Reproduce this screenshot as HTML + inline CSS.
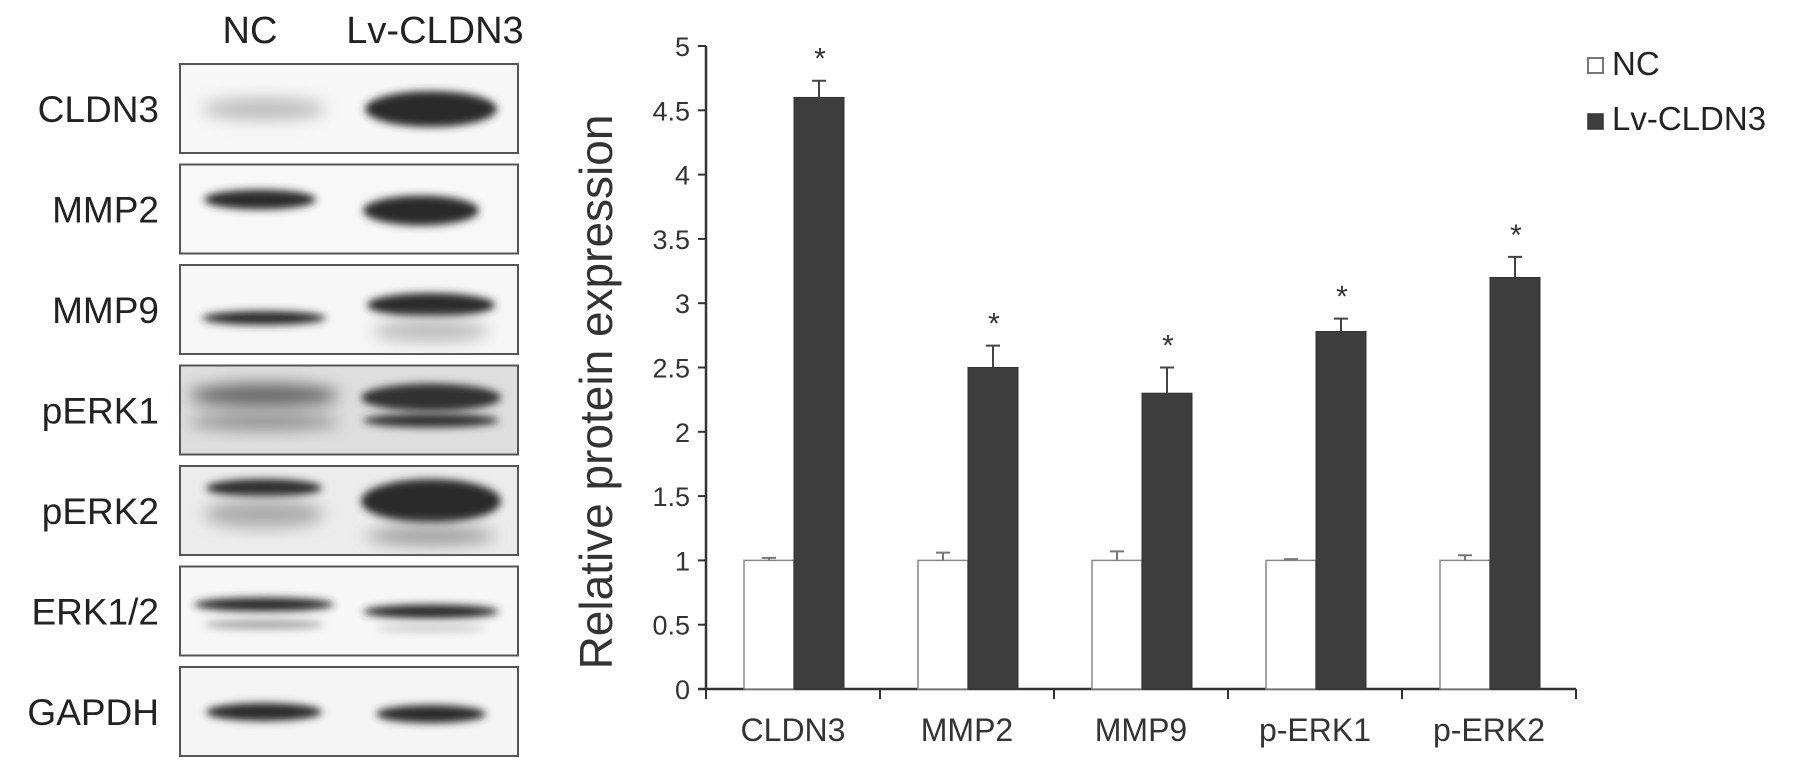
<!DOCTYPE html>
<html><head><meta charset="utf-8"><style>
body{margin:0;background:#fff;}
svg{display:block;font-family:"Liberation Sans",Arial,sans-serif;}
</style></head><body>
<svg width="1795" height="763" viewBox="0 0 1795 763">
<defs>
<filter id="b4" x="-30%" y="-80%" width="160%" height="260%"><feGaussianBlur stdDeviation="4"/></filter>
<filter id="b8" x="-30%" y="-80%" width="160%" height="260%"><feGaussianBlur stdDeviation="8"/></filter>
</defs>
<g id="blots">
<text x="250" y="43" font-size="38" text-anchor="middle" fill="#222">NC</text>
<text x="435" y="43" font-size="38" text-anchor="middle" fill="#222">Lv-CLDN3</text>
</g>
<g id="chart"></g>
<g>
<rect x="1588" y="58" width="15" height="15" fill="#fff" stroke="#777" stroke-width="2"/>
<text x="1612" y="75" font-size="33" fill="#222">NC</text>
<rect x="1588" y="114" width="15" height="15" fill="#3d3d3d" stroke="#333" stroke-width="1.5"/>
<text x="1612" y="130" font-size="33" fill="#222">Lv-CLDN3</text>
</g>
</svg>
<script>
const categories=["CLDN3","MMP2","MMP9","p-ERK1","p-ERK2"];
const ncValues=[1,1,1,1,1];
const ncErr=[0.02,0.06,0.07,0.01,0.04];
const lvValues=[4.6,2.5,2.3,2.78,3.2];
const lvErr=[0.13,0.17,0.2,0.1,0.16];
const yTicks=[0,0.5,1,1.5,2,2.5,3,3.5,4,4.5,5];
const yTickLabels=["0","0.5","1","1.5","2","2.5","3","3.5","4","4.5","5"];
const blotLabels=["CLDN3","MMP2","MMP9","pERK1","pERK2","ERK1/2","GAPDH"];

const NS="http://www.w3.org/2000/svg";
function mk(tag,attrs,parent){const e=document.createElementNS(NS,tag);for(const k in attrs)e.setAttribute(k,attrs[k]);parent.appendChild(e);return e;}
const chart=document.getElementById('chart');
const X0=706,XW=174,Y0=689,Y5=46;
const y=v=>Y0-(Y0-Y5)*v/5;
const xCat=i=>X0+i*XW;
let ax=mk('line',{x1:X0,y1:Y5,x2:X0,y2:Y0,stroke:'#333','stroke-width':2.5},chart);

let bx=mk('line',{x1:X0-8,y1:Y0,x2:X0+XW*categories.length,y2:Y0,stroke:'#333','stroke-width':2.5},chart);

yTicks.forEach((t,i)=>{
 const l=mk('line',{x1:X0-8,y1:y(t),x2:X0,y2:y(t),stroke:'#333','stroke-width':2},chart);
 
 const tx=mk('text',{x:X0-16,y:y(t)+10,'font-size':27,'text-anchor':'end',fill:'#333'},chart);
 tx.textContent=yTickLabels[i];
 
});
for(let i=0;i<=categories.length;i++){
 const l=mk('line',{x1:xCat(i),y1:Y0,x2:xCat(i),y2:Y0+10,stroke:'#333','stroke-width':2},chart);
 
}
const yt=mk('text',{x:0,y:0,'font-size':46,'text-anchor':'middle',fill:'#333',transform:'translate(612,392) rotate(-90)'},chart);
yt.textContent='Relative protein expression';

categories.forEach((c,i)=>{
 const bxl=xCat(i)+38;
 const nb=mk('rect',{x:bxl,y:y(ncValues[i]),width:50,height:Y0-y(ncValues[i]),fill:'#fff',stroke:'#888','stroke-width':1.5},chart);
 
 const lb=mk('rect',{x:bxl+50,y:y(lvValues[i]),width:50,height:Y0-y(lvValues[i]),fill:'#3d3d3d',stroke:'#333','stroke-width':1},chart);
 
 [[bxl+25,ncValues[i],ncErr[i],'#777'],[bxl+75,lvValues[i],lvErr[i],'#444']].forEach(([cx,v,e,col])=>{
  const g=mk('path',{d:`M${cx},${y(v)} V${y(v+e)} M${cx-7},${y(v+e)} H${cx+7}`,stroke:col,'stroke-width':2,fill:'none'},chart);
  
 });
 const st=mk('text',{x:bxl+76,y:y(lvValues[i]+lvErr[i])-12,'font-size':30,'text-anchor':'middle',fill:'#333'},chart);
 st.textContent='*';
 
 const cl=mk('text',{x:xCat(i)+XW/2,y:741,'font-size':32,'text-anchor':'middle',fill:'#333'},chart);
 cl.textContent=c;
 
});
const blots=document.getElementById('blots');
const bands=[
 [[264,45,62,11,'#bbb',8],[431,45,66,18,'#2a2a2a',4]],
 [[260,35,56,10,'#2a2a2a',4],[421,46,58,15,'#2a2a2a',4]],
 [[264,53,62,7,'#2a2a2a',4],[431,40,64,12,'#2a2a2a',4],[431,66,58,11,'#bbb',8]],
 [[264,30,75,12,'#666',6],[264,56,75,8,'#888',6],[431,32,70,14,'#333',5],[431,55,68,7,'#333',4]],
 [[264,22,58,9,'#2a2a2a',4],[264,48,60,14,'#aaa',8],[431,35,70,22,'#2a2a2a',4],[431,70,65,9,'#999',8]],
 [[264,38,70,7,'#2a2a2a',3],[264,58,60,5,'#aaa',5],[431,45,68,7,'#2a2a2a',3],[431,62,55,4,'#ccc',5]],
 [[264,45,58,9,'#2a2a2a',4],[431,47,55,9,'#2a2a2a',4]]
];
const bgs=['#f7f7f7','#f8f8f8','#f6f6f6','#dedede','#ececec','#f7f7f7','#f5f5f5'];
blotLabels.forEach((lab,i)=>{
 const top=64+i*100.5;
 const r=mk('rect',{x:180,y:top,width:338,height:89,fill:bgs[i],stroke:'#555','stroke-width':2},blots);
 
 bands[i].forEach(b=>{
  const e=mk('ellipse',{cx:b[0],cy:top+b[1],rx:b[2],ry:b[3],fill:b[4],filter:b[5]>5?'url(#b8)':'url(#b4)'},blots);
  
 });
 const t=mk('text',{x:159,y:top+58,'font-size':37,'text-anchor':'end',fill:'#222'},blots);
 t.textContent=lab;
 
});
</script>
</body></html>
